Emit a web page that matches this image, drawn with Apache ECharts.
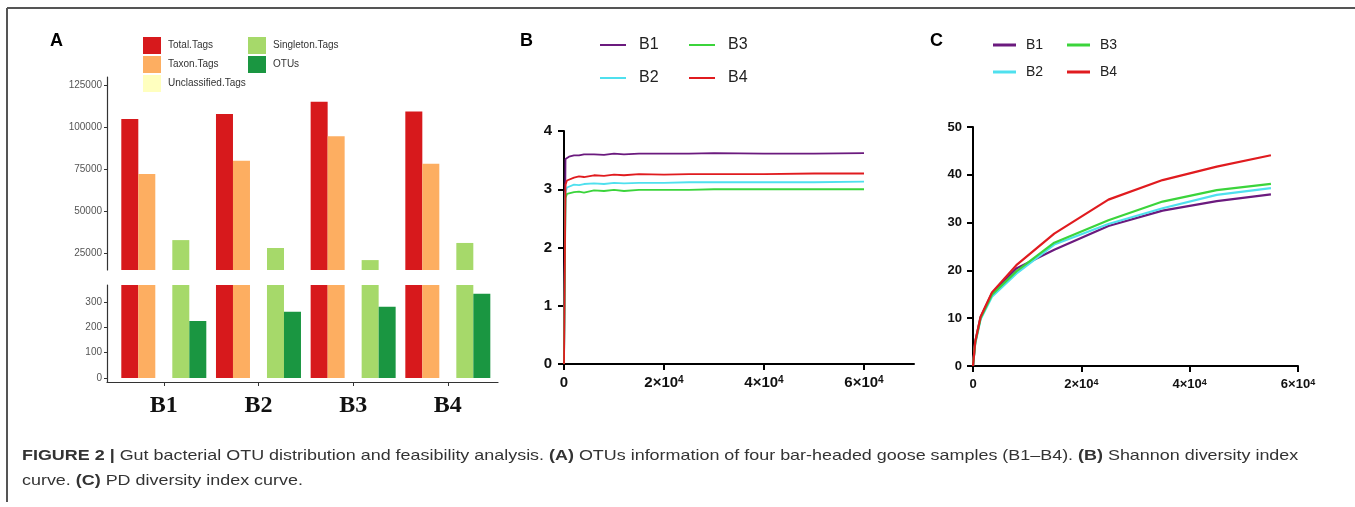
<!DOCTYPE html>
<html>
<head>
<meta charset="utf-8">
<title>Figure 2</title>
<script src="https://cdn.jsdelivr.net/npm/echarts@6/dist/echarts.min.js"></script>
<style>
  html, body { margin: 0; padding: 0; background: #fff; }
  #main { width: 1355px; height: 507px; }
</style>
</head>
<body>
<div id="main"></div>
<script>
/* =================================
   数据
================================= */
var samples = ["B1", "B2", "B3", "B4"];
var tagNames = ["Total.Tags", "Taxon.Tags", "Unclassified.Tags", "Singleton.Tags", "OTUs"];
var tagColors = ["#d7191c", "#fdae61", "#ffffbf", "#a6d96a", "#1a9641"];
var totalTags = [104800, 107700, 115100, 109300];
var taxonTags = [72000, 79900, 94500, 78200];
var unclassifiedTags = [0, 0, 0, 0];
var singletonTags = [32700, 28000, 20800, 31000];
var otus = [225, 261, 281, 332];
var upperTicks = [25000, 50000, 75000, 100000, 125000];
var lowerTicks = [0, 100, 200, 300];

// Shannon
var shannonX = [0, 300, 600, 1000, 2000, 3000, 4000, 6000, 8000, 10000, 12000, 15000, 20000, 25000, 30000, 40000, 50000, 60000];
var shannonB1 = [0, 3.52, 3.55, 3.56, 3.58, 3.58, 3.60, 3.60, 3.59, 3.61, 3.60, 3.61, 3.61, 3.61, 3.62, 3.61, 3.61, 3.62];
var shannonB2 = [0, 2.95, 3.03, 3.06, 3.08, 3.07, 3.09, 3.10, 3.09, 3.11, 3.10, 3.11, 3.11, 3.12, 3.12, 3.12, 3.12, 3.13];
var shannonB3 = [0, 2.85, 2.92, 2.94, 2.95, 2.96, 2.94, 2.98, 2.97, 2.99, 2.97, 2.99, 2.99, 2.99, 3.00, 3.00, 3.00, 3.00];
var shannonB4 = [0, 3.08, 3.15, 3.18, 3.20, 3.22, 3.21, 3.24, 3.23, 3.25, 3.24, 3.26, 3.25, 3.26, 3.26, 3.26, 3.27, 3.27];

// PD
var pdX = [0, 400, 1400, 3500, 8000, 15000, 25000, 35000, 45000, 55000];
var pdB1 = [0, 5.0, 10.2, 15.2, 20.4, 24.3, 29.3, 32.5, 34.5, 35.9];
var pdB2 = [0, 4.6, 9.8, 14.5, 19.3, 25.4, 29.7, 33.0, 35.8, 37.2];
var pdB3 = [0, 4.8, 10.0, 14.9, 19.8, 25.8, 30.5, 34.4, 36.8, 38.1];
var pdB4 = [0, 5.0, 10.3, 15.4, 21.1, 27.7, 34.8, 38.9, 41.7, 44.1];

var xTicks = [0, 20000, 40000, 60000];
var lineColors = ["#6b1a7e", "#4fe0ee", "#3bd43b", "#e01b1f"];

var SANS = "Liberation Sans, Arial, sans-serif";

function pairs(xs, ys) {
  return xs.map(function(x, i) { return [x, ys[i]]; });
}

function sciLabel(v) {
  if (v === 0) return "{n|0}";
  return "{n|" + (v / 10000) + "×10}{s|4}";
}

/* =================================
   图表
================================= */
var chart = echarts.init(document.getElementById("main"), null, { renderer: "canvas" });

var tagValues = [totalTags, taxonTags, unclassifiedTags, singletonTags, otus];
var series = [];

// panel A: upper + lower broken axis
tagNames.forEach(function(name, i) {
  var data = tagValues[i].map(function(v, j) { return [j + 1, v]; });
  [0, 1].forEach(function(k) {
    series.push({
      type: "bar", name: name,
      xAxisIndex: k, yAxisIndex: k,
      barWidth: 17, barGap: "0%",
      itemStyle: { color: tagColors[i] },
      clip: true,
      data: data
    });
  });
});

// panel B / C
var shannonSets = [shannonB1, shannonB2, shannonB3, shannonB4];
var pdSets = [pdB1, pdB2, pdB3, pdB4];
samples.forEach(function(name, i) {
  series.push({
    type: "line", name: name, xAxisIndex: 2, yAxisIndex: 2,
    symbol: "none", lineStyle: { color: lineColors[i], width: 1.8 },
    itemStyle: { color: lineColors[i] },
    data: pairs(shannonX, shannonSets[i])
  });
});
samples.forEach(function(name, i) {
  series.push({
    type: "line", name: name, xAxisIndex: 3, yAxisIndex: 3,
    symbol: "none", lineStyle: { color: lineColors[i], width: 2.2 },
    itemStyle: { color: lineColors[i] },
    data: pairs(pdX, pdSets[i])
  });
});

function sciAxis(grid, max, fs, ss, margin) {
  return {
    type: "value", gridIndex: grid, min: 0, max: max,
    axisLine: { show: true, onZero: false, lineStyle: { color: "#000", width: 2 } },
    axisTick: { show: true, customValues: xTicks, length: 6, lineStyle: { color: "#000", width: 2 } },
    axisLabel: {
      customValues: xTicks, margin: margin, formatter: sciLabel,
      rich: {
        n: { fontFamily: SANS, fontSize: fs, fontWeight: "bold", color: "#111" },
        s: { fontFamily: SANS, fontSize: ss, fontWeight: "bold", color: "#111", verticalAlign: "top" }
      }
    },
    splitLine: { show: false }
  };
}

function numAxis(grid, max, interval, fs, margin) {
  return {
    type: "value", gridIndex: grid, min: 0, max: max, interval: interval,
    axisLine: { show: true, onZero: false, lineStyle: { color: "#000", width: 2 } },
    axisTick: { show: true, length: 6, lineStyle: { color: "#000", width: 2 } },
    axisLabel: { fontFamily: SANS, fontSize: fs, fontWeight: "bold", color: "#111", margin: margin },
    splitLine: { show: false }
  };
}

function tagYAxis(grid, min, max, ticks) {
  return {
    type: "value", gridIndex: grid, min: min, max: max,
    axisLine: { show: true, onZero: false, lineStyle: { color: "#333", width: 1.2 } },
    axisTick: { show: true, customValues: ticks, length: 3, lineStyle: { color: "#333" } },
    axisLabel: {
      customValues: ticks, fontFamily: SANS, fontSize: 10, color: "#555", margin: 5,
      formatter: function(v) { return String(v); }
    },
    splitLine: { show: false }
  };
}

var legendA = {
  orient: "vertical", icon: "rect", itemWidth: 18, itemHeight: 17, itemGap: 2,
  selectedMode: false, padding: 0,
  textStyle: { fontFamily: SANS, fontSize: 10, color: "#333", padding: [0, 0, 0, 2] }
};
function legendLine(left, top, data, w, h, fs, gap, pad) {
  return {
    left: left, top: top, data: data, orient: "vertical", icon: "rect",
    itemWidth: w, itemHeight: h, itemGap: gap, selectedMode: false, padding: 0,
    textStyle: { fontFamily: SANS, fontSize: fs, lineHeight: fs, color: "#222", padding: [0, 0, 0, pad] }
  };
}

var caption1 = "{b|FIGURE 2 |} Gut bacterial OTU distribution and feasibility analysis. {b|(A)} OTUs information of four bar-headed goose samples (B1–B4). {b|(B)} Shannon diversity index";
var caption2 = "curve. {b|(C)} PD diversity index curve.";

chart.setOption({
  animation: false,
  backgroundColor: "#fff",
  title: [
    { text: "A", left: 45, top: 27, textStyle: { fontFamily: SANS, fontSize: 18, fontWeight: "bold", color: "#000" } },
    { text: "B", left: 515, top: 27, textStyle: { fontFamily: SANS, fontSize: 18, fontWeight: "bold", color: "#000" } },
    { text: "C", left: 925, top: 27, textStyle: { fontFamily: SANS, fontSize: 18, fontWeight: "bold", color: "#000" } }
  ],
  legend: [
    Object.assign({}, legendA, { left: 143, top: 37, data: ["Total.Tags", "Taxon.Tags", "Unclassified.Tags"] }),
    Object.assign({}, legendA, { left: 248, top: 37, data: ["Singleton.Tags", "OTUs"] }),
    legendLine(600, 37, ["B1", "B2"], 26, 2, 16, 17, 8),
    legendLine(689, 37, ["B3", "B4"], 26, 2, 16, 17, 8),
    legendLine(993, 38, ["B1", "B2"], 23, 3, 14, 13, 5),
    legendLine(1067, 38, ["B3", "B4"], 23, 3, 14, 13, 5)
  ],
  graphic: [
    { type: "line", shape: { x1: 7, y1: 8, x2: 1355, y2: 8 }, style: { stroke: "#555", lineWidth: 2 } },
    { type: "line", shape: { x1: 7, y1: 8, x2: 7, y2: 502 }, style: { stroke: "#555", lineWidth: 2 } },
    {
      type: "text", x: 22, y: 443, scaleX: 1.195,
      style: {
        text: caption1 + "\n" + caption2,
        fontFamily: SANS, fontSize: 15, fill: "#333", lineHeight: 25,
        verticalAlign: "top", align: "left",
        rich: { b: { fontFamily: SANS, fontSize: 15, fontWeight: "bold", fill: "#333", lineHeight: 25 } }
      }
    }
  ],
  grid: [
    { left: 107, top: 77, width: 391, height: 193 },
    { left: 107, top: 285, width: 391, height: 97 },
    { left: 564, top: 131, width: 350, height: 233 },
    { left: 973, top: 127, width: 325, height: 239 }
  ],
  xAxis: [
    { type: "value", gridIndex: 0, min: 0.4, max: 4.53, show: false },
    {
      type: "value", gridIndex: 1, min: 0.4, max: 4.53,
      axisLine: { show: true, onZero: false, lineStyle: { color: "#333", width: 1.2 } },
      axisTick: { show: true, customValues: [1, 2, 3, 4], length: 4, lineStyle: { color: "#333" } },
      axisLabel: {
        customValues: [1, 2, 3, 4], margin: 12,
        formatter: function(v) { return samples[Math.round(v) - 1]; },
        fontFamily: "Liberation Serif, Times New Roman, serif", fontSize: 24, fontWeight: "bold", color: "#111"
      },
      splitLine: { show: false }
    },
    sciAxis(2, 70000, 15, 10, 11),
    sciAxis(3, 60000, 13, 9, 12)
  ],
  yAxis: [
    tagYAxis(0, 14900, 129800, upperTicks),
    tagYAxis(1, -16, 367, lowerTicks),
    numAxis(2, 4, 1, 15, 12),
    numAxis(3, 50, 10, 13, 11)
  ],
  series: series
});
</script>
</body>
</html>
